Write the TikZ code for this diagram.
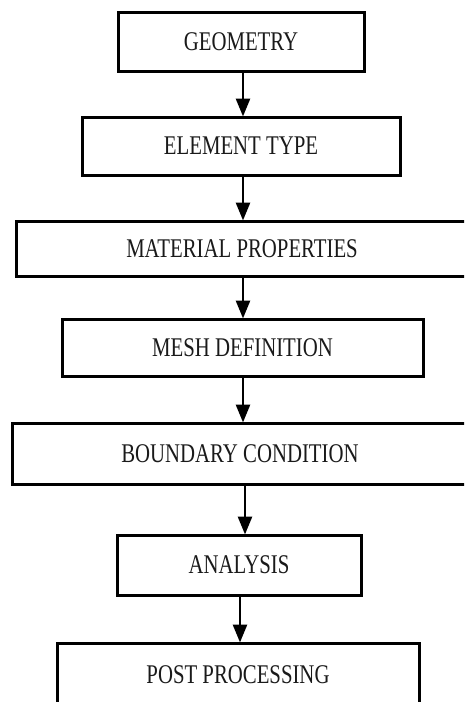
\documentclass[tikz,border=0pt]{standalone}
\usepackage{fontspec}
\setmainfont{Liberation Serif}[FakeStretch=0.77]
\usetikzlibrary{arrows.meta}
\definecolor{inkgray}{HTML}{1A1A1A}
\tikzset{
  box/.style={draw=black, line width=3pt, fill=white, inner sep=0pt,
    font=\fontsize{27}{30}\selectfont, text=inkgray},
  arr/.style={line width=2.7pt, -{Triangle[length=18pt,width=14pt]}, shorten >=-1pt}
}
\begin{document}
\begin{tikzpicture}[x=1pt,y=-1pt]
\useasboundingbox (0,0) rectangle (464,702);
\clip (0,0) rectangle (464,702);
\node[box, minimum width=246pt, minimum height=59pt] (geo) at (241,41.5) {GEOMETRY};
\node[box, minimum width=318pt, minimum height=58pt] (elem) at (241,146) {ELEMENT TYPE};
\node[box, minimum width=452pt, minimum height=55pt] (mat) at (242,248.5) {MATERIAL PROPERTIES};
\node[box, minimum width=361pt, minimum height=57pt] (mesh) at (242.5,347.5) {MESH DEFINITION};
\node[box, minimum width=456pt, minimum height=61pt] (bc) at (240,453.5) {BOUNDARY CONDITION};
\node[box, minimum width=244pt, minimum height=60pt] (ana) at (239,565) {ANALYSIS};
\node[box, minimum width=362pt, minimum height=64pt] (post) at (238,675) {POST PROCESSING};
\draw[arr] ([xshift=2pt]geo.south) -- ([xshift=2pt]geo.south |- elem.north);
\draw[arr] ([xshift=2pt]elem.south) -- ([xshift=2pt]elem.south |- mat.north);
\draw[arr] ([xshift=1pt]mat.south) -- ([xshift=1pt]mat.south |- mesh.north);
\draw[arr] ([xshift=0.5pt]mesh.south) -- ([xshift=0.5pt]mesh.south |- bc.north);
\draw[arr] ([xshift=5pt]bc.south) -- ([xshift=5pt]bc.south |- ana.north);
\draw[arr] ([xshift=1pt]ana.south) -- ([xshift=1pt]ana.south |- post.north);
\end{tikzpicture}
\end{document}
